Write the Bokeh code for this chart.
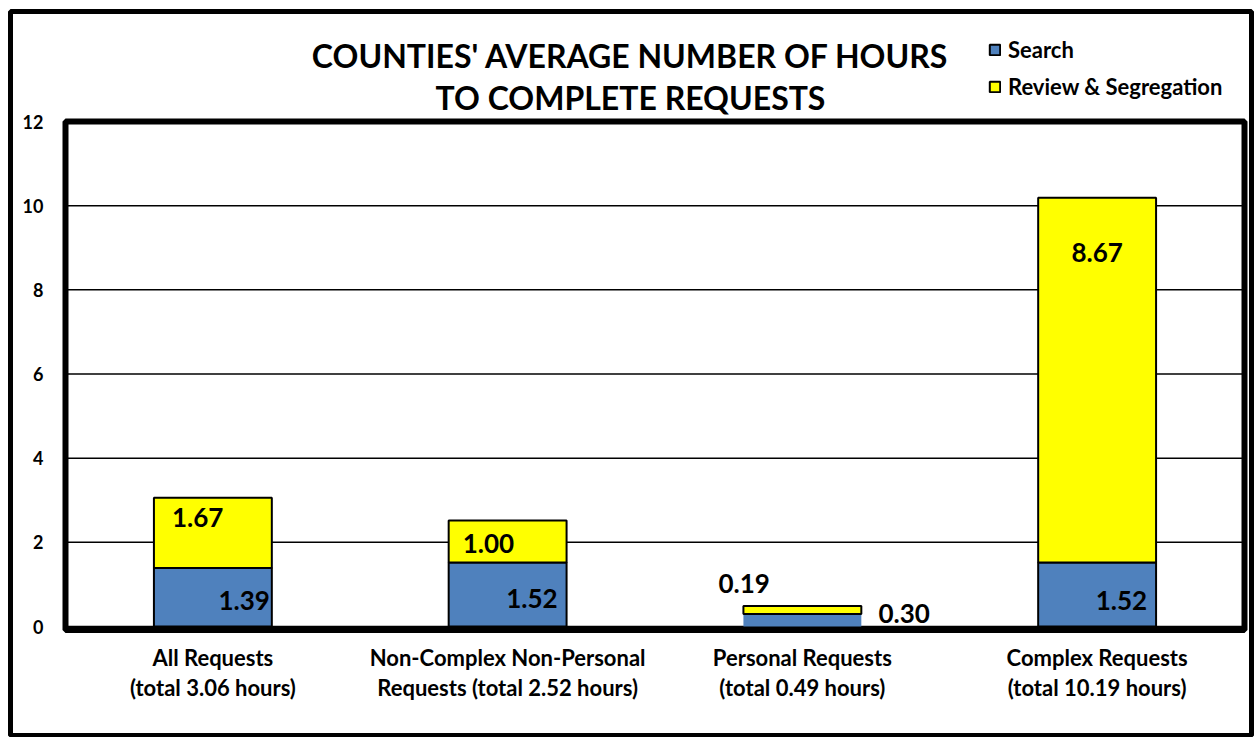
from bokeh.plotting import figure
from bokeh.models import ColumnDataSource, Range1d, Legend, LegendItem
from bokeh.core.properties import value
from bokeh.embed import file_html
from bokeh.resources import INLINE

# ---------------- data ----------------
categories = [
    "All Requests\n(total 3.06 hours)",
    "Non-Complex Non-Personal\nRequests (total 2.52 hours)",
    "Personal Requests\n(total 0.49 hours)",
    "Complex Requests\n(total 10.19 hours)",
]
search = [1.39, 1.52, 0.30, 1.52]
review = [1.67, 1.00, 0.19, 8.67]
series_names = ["Search", "Review & Segregation"]
y_ticks = [0, 2, 4, 6, 8, 10, 12]
title_lines = ["COUNTIES' AVERAGE NUMBER OF HOURS", "TO COMPLETE REQUESTS"]

# ---------------- style / layout ----------------
FONT = "Lato"
BLUE = "#4F81BD"
YELLOW = "#FFFF00"
W, H = 1254, 737
ML, MR, MT, MB = 10, 3, 11, 2            # outer frame drawn on the frame outline
FRAME_L, FRAME_R, FRAME_T, FRAME_B = ML, W - MR, MT, H - MB
PLOT_L, PLOT_R, PLOT_T, PLOT_B = 65, 1244, 121, 626   # inner plot-area box (px)
Y_MAX = 12
N = len(categories)
PX_X = (PLOT_R - PLOT_L) / N            # px per category unit
PX_Y = (PLOT_B - PLOT_T) / Y_MAX        # px per hour

def dx(px):   # page px -> x data
    return (px - PLOT_L) / PX_X

def dy(py):   # page px -> y data
    return (PLOT_B - py) / PX_Y

# label placement (pixel offsets), kept apart from the values
review_dx = [-41, -45, -84, 0]
review_align = ["left", "left", "left", "center"]
review_dy = [20, 23, -22, 55]          # px below top of stack (negative = above)
search_dx = [57, 50, 76, 50]
search_align = ["right", "right", "left", "right"]
search_dy = [26, 28, 13, 26]           # px above the baseline
search_line_alpha = [1, 1, 0, 1]

xs = [i + 0.5 for i in range(N)]
totals = [s + r for s, r in zip(search, review)]
fmt = lambda v: f"{v:.2f}"

src = ColumnDataSource(dict(x=xs, cat=categories, search=search, review=review,
                            total=totals, s_alpha=search_line_alpha))

p = figure(width=W, height=H,
           x_range=Range1d(dx(FRAME_L), dx(FRAME_R)),
           y_range=Range1d(dy(FRAME_B), dy(FRAME_T)),
           x_axis_type=None, y_axis_type=None,
           output_backend="svg", toolbar_location=None,
           min_border_left=ML, min_border_right=MR,
           min_border_top=MT, min_border_bottom=MB)
p.background_fill_color = "white"
p.border_fill_color = "white"
p.outline_line_color = "black"
p.outline_line_width = 5
p.xgrid.visible = False
p.ygrid.visible = False

# gridlines inside the plot area
grid_y = [t for t in y_ticks if 0 <= t < Y_MAX]
p.segment(x0=[0] * len(grid_y), x1=[N] * len(grid_y), y0=grid_y, y1=grid_y,
          line_color="black", line_width=1.5)

# bars
r_search = p.vbar(x="x", bottom=0, top="search", width=0.4, source=src,
                  fill_color=BLUE, line_color="black", line_width=2,
                  line_alpha="s_alpha")
r_review = p.vbar(x="x", bottom="search", top="total", width=0.4, source=src,
                  fill_color=YELLOW, line_color="black", line_width=2)

# plot-area border (left, top, right thick; bottom a bit below the zero line)
p.quad(left=[0], right=[N], bottom=[-3.5 / PX_Y], top=[Y_MAX], fill_color=None,
       line_color="black", line_width=6)

# y tick labels
p.text(x=[0] * len(y_ticks), y=y_ticks, text=[str(t) for t in y_ticks],
       x_offset=-22, text_align="right", text_baseline="middle",
       text_font=value(FONT), text_font_style="bold", text_font_size="18px",
       text_color="black")

# category labels
p.text(x=xs, y=[dy(672)] * N, text=categories, text_align="center",
       text_baseline="middle", text_line_height=1.14,
       text_font=value(FONT), text_font_style="bold", text_font_size="22px",
       text_color="black")

# data labels
rev_src = ColumnDataSource(dict(
    x=xs, y=[t - d / PX_Y for t, d in zip(totals, review_dy)],
    text=[fmt(v) for v in review], dx=review_dx, align=review_align))
p.text(x="x", y="y", text="text", x_offset="dx", text_align="align",
       text_baseline="middle", source=rev_src,
       text_font=value(FONT), text_font_style="bold",
       text_font_size="26px", text_color="black")

sea_src = ColumnDataSource(dict(
    x=xs, y=[d / PX_Y for d in search_dy],
    text=[fmt(v) for v in search], dx=search_dx, align=search_align))
p.text(x="x", y="y", text="text", x_offset="dx", text_align="align",
       text_baseline="middle", source=sea_src,
       text_font=value(FONT), text_font_style="bold",
       text_font_size="26px", text_color="black")

# title (two lines)
p.text(x=[dx(630)] * 2, y=[dy(55), dy(97)], text=title_lines,
       text_align="center", text_baseline="middle",
       text_font=value(FONT), text_font_style="bold", text_font_size="32px",
       text_color="black")

# legend
legend = Legend(items=[LegendItem(label=series_names[0], renderers=[r_search]),
                       LegendItem(label=series_names[1], renderers=[r_review])],
                location=(988 - FRAME_L, FRAME_B - 99.5), orientation="vertical",
                glyph_width=13, glyph_height=13, label_standoff=7,
                label_height=26, spacing=10, padding=0, margin=0,
                border_line_color=None, background_fill_alpha=0,
                label_text_font=FONT, label_text_font_style="bold",
                label_text_font_size="22px", label_text_color="black")
p.add_layout(legend, "center")

open("out.html", "w").write(file_html(p, INLINE))
